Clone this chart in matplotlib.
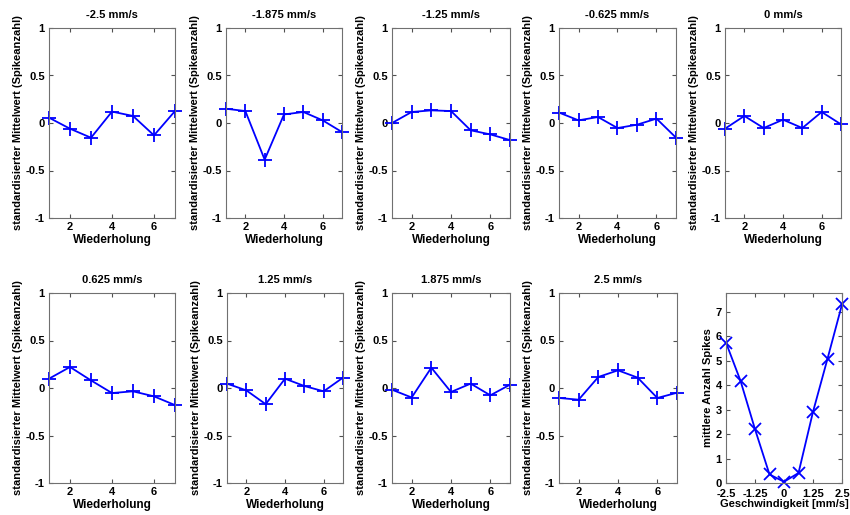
import matplotlib
matplotlib.use("Agg")
import matplotlib.pyplot as plt

plt.rcParams['font.family'] = ['Liberation Sans', 'DejaVu Sans']
plt.rcParams['font.weight'] = 'bold'

titles = ["-2.5 mm/s", "-1.875 mm/s", "-1.25 mm/s", "-0.625 mm/s", "0 mm/s",
          "0.625 mm/s", "1.25 mm/s", "1.875 mm/s", "2.5 mm/s"]
wiederholung = [1, 2, 3, 4, 5, 6, 7]
series = [
    [0.056, -0.06, -0.155, 0.12, 0.074, -0.13, 0.126],
    [0.15, 0.126, -0.386, 0.09, 0.116, 0.028, -0.095],
    [0.0, 0.116, 0.133, 0.126, -0.077, -0.12, -0.18],
    [0.11, 0.028, 0.063, -0.053, -0.018, 0.046, -0.154],
    [-0.06, 0.074, -0.053, 0.035, -0.053, 0.116, -0.014],
    [0.098, 0.221, 0.08, -0.053, -0.035, -0.088, -0.18],
    [0.046, -0.025, -0.17, 0.098, 0.021, -0.035, 0.109],
    [-0.018, -0.1, 0.214, -0.042, 0.046, -0.077, 0.035],
    [-0.105, -0.123, 0.116, 0.186, 0.109, -0.105, -0.05],
]
speeds = [-2.5, -1.875, -1.25, -0.625, 0, 0.625, 1.25, 1.875, 2.5]
mean_spikes = [5.74, 4.18, 2.2, 0.35, 0.05, 0.41, 2.91, 5.08, 7.3]
speed_ticks = [-2.5, -1.25, 0, 1.25, 2.5]
speed_ticklabels = ["-2.5", "-1.25", "0", "1.25", "2.5"]

W, H = 850, 515
fig = plt.figure(figsize=(8.5, 5.15), dpi=100)

lefts = [[49, 226, 392, 559, 725], [49, 227, 392, 559, 726]]
widths = [[126, 116, 118, 117, 116], [126, 116, 118, 118, 116]]
tops = [28, 293]
ax_h = 190

blue = (0, 0, 1)
fs = 8

def style(ax):
    ax.tick_params(direction='in', top=True, right=True, labelsize=fs, length=3,
                   color='#505050', pad=3)
    for s in ax.spines.values():
        s.set_color('#707070')
    for lab in ax.get_xticklabels() + ax.get_yticklabels():
        lab.set_fontweight('bold')

k = 0
for r in range(2):
    for c in range(5):
        l = lefts[r][c]; w = widths[r][c]
        ax = fig.add_axes([l / W, 1 - (tops[r] + ax_h) / H, w / W, ax_h / H])
        if k < 9:
            ax.plot(wiederholung, series[k], color=blue, marker='+', markersize=10,
                    markeredgewidth=1.3, linewidth=1.3, clip_on=False)
            ax.set_xlim(1, 7)
            ax.set_ylim(-1, 1)
            ax.set_xticks([2, 4, 6])
            ax.set_yticks([-1, -0.5, 0, 0.5, 1])
            ax.set_yticklabels(["-1", "-0.5", "0", "0.5", "1"])
            ax.set_title(titles[k], fontsize=fs, fontweight='bold', pad=7)
            ax.set_xlabel("Wiederholung", fontsize=fs + 0.5, fontweight='bold', labelpad=1)
            ax.set_ylabel("standardisierter Mittelwert (Spikeanzahl)", fontsize=fs,
                          fontweight='bold', labelpad=2)
            style(ax)
        else:
            ax.plot(speeds, mean_spikes, color=blue, marker='x', markersize=8,
                    markeredgewidth=1.3, linewidth=1.3, clip_on=False)
            ax.set_xlim(-2.5, 2.5)
            ax.set_ylim(0, 7.77)
            ax.set_xticks(speed_ticks)
            ax.set_xticklabels(speed_ticklabels)
            ax.set_yticks(range(0, 8))
            ax.set_xlabel("Geschwindigkeit [mm/s]", fontsize=fs, fontweight='bold', labelpad=0)
            ax.set_ylabel("mittlere Anzahl Spikes", fontsize=fs, fontweight='bold', labelpad=2)
            style(ax)
            ax.tick_params(axis='x', pad=4)
        k += 1

fig.savefig("out.png", dpi=100)
